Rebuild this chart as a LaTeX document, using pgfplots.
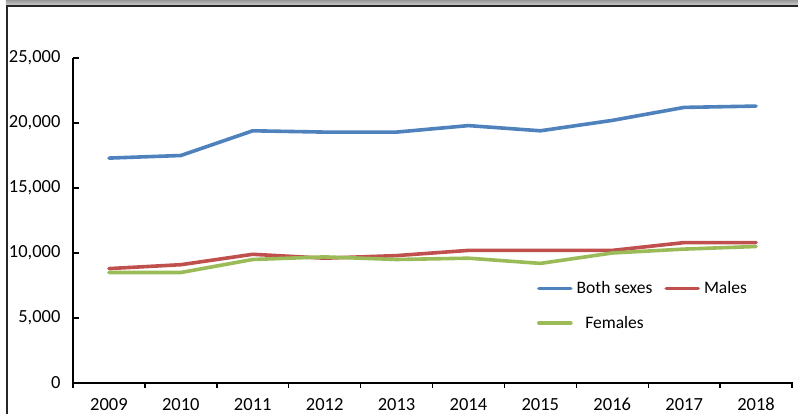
\documentclass[border=0pt]{standalone}
\usepackage{pgfplots}
\pgfplotsset{compat=1.18}
\usepackage{fontspec}
\setmainfont{Carlito}

\definecolor{bothc}{HTML}{4F81BD}
\definecolor{malec}{HTML}{C0504D}
\definecolor{femc}{HTML}{9BBB59}

\begin{document}
\begin{tikzpicture}
\begin{axis}[
    scale only axis,
    width=719pt, height=325pt,
    axis x line=bottom, axis y line=left,
    axis line style={-, line width=1.4pt},
    xmin=-0.5, xmax=9.5,
    ymin=0, ymax=25000,
    xtick={-0.5,0.5,...,9.5},
    x tick label as interval,
    xticklabels={2009,2010,2011,2012,2013,2014,2015,2016,2017,2018},
    ytick={0,5000,...,25000},
    scaled y ticks=false,
    /pgf/number format/1000 sep={,},
    /pgf/number format/assume math mode=true,
    tick align=inside,
    major tick length=6pt,
    tick style={line width=1.4pt, black},
    x tick style={yshift=-5pt},
    ticklabel style={font=\fontsize{18.5}{21}\selectfont},
    yticklabel style={xshift=-9pt},
    xticklabel style={text height=12pt, text depth=0pt, yshift=-11.5pt},
    legend columns=2,
    legend image code/.code={\draw[#1] (0pt,0pt) -- (32pt,0pt);},
    legend style={at={(0.641,0.322)}, anchor=north west, draw=none, fill=none,
        font=\fontsize{17.5}{20}\selectfont, /tikz/column sep=3pt, /tikz/row sep=19pt,
        /tikz/column 2/.style={column sep=11pt},
        nodes={inner sep=1pt}},
    every axis plot/.append style={line width=3.6pt, line cap=round, line join=round},
]
\coordinate (ll) at (rel axis cs:0,0);
\addplot[bothc] coordinates {
    (0,17300) (1,17500) (2,19400) (3,19300) (4,19300)
    (5,19800) (6,19400) (7,20200) (8,21200) (9,21300)
};
\addlegendentry{Both sexes}
\addplot[malec] coordinates {
    (0,8800) (1,9100) (2,9900) (3,9600) (4,9800)
    (5,10200) (6,10200) (7,10200) (8,10800) (9,10800)
};
\addlegendentry{Males}
\addplot[femc] coordinates {
    (0,8500) (1,8500) (2,9500) (3,9700) (4,9500)
    (5,9600) (6,9200) (7,10000) (8,10300) (9,10500)
};
\addlegendentry{Females}
\end{axis}
\pgfresetboundingbox
\path[use as bounding box] ([xshift=-73pt,yshift=-31pt]ll) rectangle ++(798pt,414pt);
% frame of the original chart area
\shade[top color=gray!80, bottom color=gray!35] ([xshift=-67pt,yshift=377pt]ll) rectangle ([xshift=725pt,yshift=383pt]ll);
\draw[black!85, line width=1.6pt] ([xshift=-66.2pt,yshift=-31pt]ll) -- ([xshift=-66.2pt,yshift=377.2pt]ll) -- ([xshift=725pt,yshift=377.2pt]ll);
\end{tikzpicture}
\end{document}
